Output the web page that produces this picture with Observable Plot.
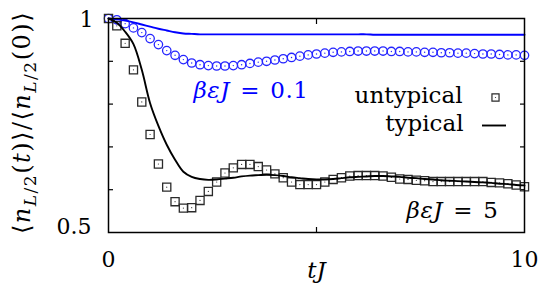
<!DOCTYPE html>
<html><head><meta charset="utf-8">
<script src="https://cdn.jsdelivr.net/npm/d3@7"></script>
<script src="https://cdn.jsdelivr.net/npm/@observablehq/plot@0.6"></script>
<style>
html,body{margin:0;padding:0;background:#fff;}
#chart svg{overflow:visible;}
</style></head><body><div id="chart"></div>
<script>
// time grid tJ
const tGrid = [0,0.2,0.4,0.6,0.8,1,1.2,1.4,1.6,1.8,2,2.2,2.4,2.6,2.8,3,3.2,3.4,3.6,3.8,4,4.2,4.4,4.6,4.8,5,5.2,5.4,5.6,5.8,6,6.2,6.4,6.6,6.8,7,7.2,7.4,7.6,7.8,8,8.2,8.4,8.6,8.8,9,9.2,9.4,9.6,9.8,10];
// beta eps J = 0.1
const untypicalHigh = [1.000,0.997,0.988,0.978,0.967,0.953,0.939,0.925,0.914,0.904,0.896,0.892,0.890,0.889,0.889,0.890,0.892,0.895,0.898,0.900,0.903,0.906,0.909,0.912,0.915,0.917,0.919,0.921,0.922,0.923,0.924,0.924,0.924,0.924,0.923,0.923,0.922,0.922,0.921,0.921,0.920,0.920,0.919,0.919,0.918,0.917,0.917,0.916,0.915,0.915,0.914];
const typicalHigh = [1.000,0.998,0.995,0.991,0.986,0.981,0.976,0.972,0.968,0.965,0.964,0.963,0.963,0.963,0.963,0.963,0.963,0.963,0.963,0.963,0.963,0.963,0.963,0.963,0.963,0.963,0.963,0.963,0.963,0.963,0.963,0.963,0.962,0.962,0.962,0.962,0.962,0.962,0.962,0.962,0.962,0.962,0.962,0.962,0.962,0.962,0.962,0.962,0.962,0.962,0.962];
// beta eps J = 5
const untypicalLow = [1.000,0.983,0.942,0.880,0.805,0.729,0.660,0.606,0.572,0.557,0.558,0.575,0.596,0.618,0.639,0.651,0.659,0.659,0.654,0.646,0.637,0.628,0.618,0.612,0.612,0.612,0.618,0.624,0.628,0.632,0.633,0.633,0.633,0.632,0.629,0.625,0.624,0.622,0.621,0.619,0.619,0.619,0.619,0.619,0.619,0.619,0.617,0.616,0.614,0.611,0.607];
const typicalLow = [1.000,0.990,0.969,0.940,0.880,0.802,0.749,0.705,0.670,0.642,0.630,0.625,0.623,0.624,0.626,0.628,0.631,0.633,0.634,0.635,0.634,0.632,0.629,0.627,0.625,0.624,0.624,0.625,0.627,0.629,0.630,0.631,0.632,0.632,0.631,0.630,0.628,0.627,0.625,0.624,0.622,0.621,0.620,0.619,0.618,0.617,0.616,0.614,0.613,0.611,0.610];

const xTickLabels = [0, 10];
const yTickLabels = [1, 0.5];
const xInnerTicks = [5];
const yInnerTicks = [0.6, 0.7, 0.8, 0.9];
const legendLabels = ["untypical", "typical"];
const annotations = ["βεJ = 0.1", "βεJ = 5"];
const xLabel = "tJ";
const yLabel = "⟨n_L/2(t)⟩/⟨n_L/2(0)⟩";

const rows = (ys) => tGrid.map((t, i) => ({t, v: ys[i]}));
const hiPts = rows(untypicalHigh), hiLine = rows(typicalHigh);
const loPts = rows(untypicalLow), loLine = rows(typicalLow);

const BLUE = "#0000ff";
const FF = "DejaVu Serif";
const lineSym = {draw(ctx){ ctx.moveTo(-12,0); ctx.lineTo(12,0); }};
const T = {fontFamily: FF, fontSize: 23, lineAnchor: "bottom"};

const chart = Plot.plot({
  width: 544, height: 284,
  marginLeft: 108, marginRight: 20, marginTop: 18, marginBottom: 52,
  style: {background: "white", fontFamily: FF},
  x: {domain: [0, 10], axis: null},
  y: {domain: [0.5, 1], axis: null},
  marks: [
    Plot.axisY(yInnerTicks, {anchor: "left", tickSize: -5, fill: "none", label: null, strokeWidth: 1.2}),
    Plot.axisY(yInnerTicks, {anchor: "right", tickSize: -5, fill: "none", label: null, strokeWidth: 1.2}),
    Plot.axisX(xInnerTicks, {anchor: "bottom", tickSize: -5, fill: "none", label: null, strokeWidth: 1.2}),
    Plot.axisX(xInnerTicks, {anchor: "top", tickSize: -5, fill: "none", label: null, strokeWidth: 1.2}),
    // data
    Plot.dot(hiPts, {x: "t", y: "v", symbol: "circle", r: 4.2, stroke: "#2424ff", strokeWidth: 1.3, fill: "none"}),
    Plot.dot(hiPts, {x: "t", y: "v", r: 0.7, fill: "#2424ff", stroke: null}),
    Plot.dot(loPts, {x: "t", y: "v", symbol: "square", r: 4.6, stroke: "#2a2a2a", strokeWidth: 1.3, fill: "none"}),
    Plot.dot(loPts, {x: "t", y: "v", r: 0.6, fill: "#333", stroke: null}),
    Plot.line(hiLine, {x: "t", y: "v", stroke: BLUE, strokeWidth: 1.9, curve: "catmull-rom"}),
    Plot.line(loLine, {x: "t", y: "v", stroke: "black", strokeWidth: 1.9, curve: "catmull-rom"}),
    Plot.frame({stroke: "black", strokeWidth: 1.5}),
    // tick labels
    Plot.text([yTickLabels[0]], {...T, fontSize: 22, y: d => d, text: d => String(d), frameAnchor: "left", textAnchor: "end", dx: -15, dy: 8, fill: "black"}),
    Plot.text([yTickLabels[1]], {...T, fontSize: 22, y: d => d, text: d => String(d), frameAnchor: "left", textAnchor: "end", dx: -17, dy: 1, fill: "black"}),
    Plot.text(xTickLabels, {...T, fontSize: 22, x: d => d, text: d => String(d), frameAnchor: "bottom", textAnchor: "middle", dy: 34, fill: "black"}),
    // axis titles
    Plot.text([xLabel], {...T, text: d => d, frameAnchor: "bottom", dy: 45, fill: "black"}),
    Plot.text([yLabel], {...T, fontSize: 24, text: d => d, frameAnchor: "left", rotate: -90, textAnchor: "middle", dx: -79, dy: -3, fill: "black"}),
    // annotations
    Plot.text([annotations[0]], {...T, text: d => d, frameAnchor: "top-left", textAnchor: "start", dx: 85, dy: 79, fill: BLUE}),
    Plot.text([annotations[1]], {...T, text: d => d, frameAnchor: "bottom-right", textAnchor: "end", dx: -26, dy: -15, fill: "black"}),
    // legend
    Plot.text([legendLabels[0]], {...T, text: d => d, frameAnchor: "top-right", textAnchor: "end", dx: -62, dy: 84, fill: "black"}),
    Plot.text([legendLabels[1]], {...T, text: d => d, frameAnchor: "top-right", textAnchor: "end", dx: -61, dy: 112, fill: "black"}),
    Plot.dot([legendLabels[0]], {frameAnchor: "top-right", dx: -29, dy: 79, symbol: "square", r: 4, stroke: "#2a2a2a", strokeWidth: 1.2, fill: "none"}),
    Plot.dot([legendLabels[0]], {frameAnchor: "top-right", dx: -29, dy: 79, r: 0.6, fill: "#333", stroke: null}),
    Plot.dot([legendLabels[1]], {frameAnchor: "top-right", dx: -30.5, dy: 107, symbol: lineSym, r: 4, stroke: "black", strokeWidth: 1.9, fill: "none"})
  ]
});
document.getElementById("chart").appendChild(chart);

// rich text (math italics, subscripts)
const svg = d3.select(chart);
function rich(el, parts) {
  const t = d3.select(el);
  t.text(null);
  for (const p of parts) {
    const ts = t.append("tspan").text(p.s);
    if (p.i) ts.attr("font-style", "italic");
    if (p.fs) ts.attr("font-size", p.fs);
    if (p.dy) ts.attr("dy", p.dy);
  }
}
svg.selectAll("text").each(function() {
  const s = this.textContent;
  const sel = d3.select(this);
  if (s === annotations[0] || s === annotations[1]) {
    const rest = s.slice(3);
    rich(this, [{s: "β", i: 1}, {s: "ε", i: 1}, {s: "J", i: 1}, {s: rest}]);
    sel.style("letter-spacing", "0.5px").style("word-spacing", "2.5px");
  } else if (s === xLabel) {
    rich(this, [{s: "tJ", i: 1}]);
  } else if (s === yLabel) {
    rich(this, [
      {s: "⟨"}, {s: "n", i: 1}, {s: "L", i: 1, fs: 17, dy: 6}, {s: "/2", fs: 17},
      {s: "(", dy: -6}, {s: "t", i: 1}, {s: ")⟩/⟨"}, {s: "n", i: 1},
      {s: "L", i: 1, fs: 17, dy: 6}, {s: "/2", fs: 17}, {s: "(0)⟩", dy: -6}
    ]);
    sel.style("letter-spacing", "1.5px");
  }
});
</script></body></html>
